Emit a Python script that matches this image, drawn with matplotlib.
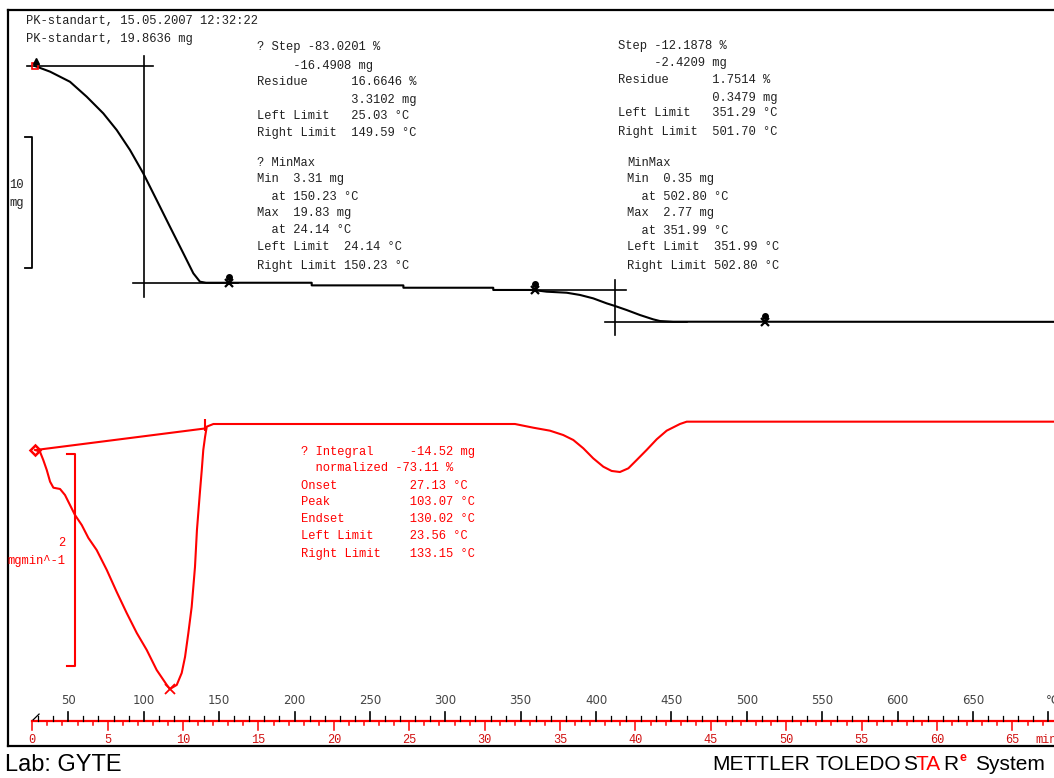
import numpy as np
import matplotlib
matplotlib.use("Agg")
import matplotlib.pyplot as plt
from matplotlib import font_manager

#--- TGA curve: weight (mg) vs sample temperature (C) ---#
tga_temp = [27.9, 37.9, 51.1, 62.2, 73.2, 82.1, 90.9, 99.7, 108.6, 117.4, 126.3,
            132.9, 137.3, 141.3, 211.4, 211.4, 272.2, 272.2, 331.8, 331.8, 358.2,
            367.2, 380.5, 389.3, 398.1, 407.0, 412.5, 420.3, 429.1, 437.9, 442.4,
            451.2, 720.0]
tga_mass = [19.83, 19.40, 18.63, 17.49, 16.22, 14.95, 13.43, 11.65, 9.61, 7.58, 5.55,
            4.03, 3.39, 3.31, 3.31, 3.11, 3.11, 2.93, 2.93, 2.76, 2.76,
            2.63, 2.55, 2.38, 2.12, 1.74, 1.54, 1.23, 0.85, 0.52, 0.39,
            0.34, 0.33]

#--- DTG curve: mg/min ---#
dtg_temp = [27.9, 31.2, 33.4, 35.7, 37.9, 40.1, 44.5, 47.8, 51.1, 54.4, 58.9, 63.3,
            68.8, 75.5, 82.1, 88.7, 95.4, 102.0, 108.6, 115.3, 117.4, 121.9, 125.2,
            127.4, 129.6, 131.8, 134.0, 135.3, 137.3, 138.5, 139.5, 140.7, 141.8,
            146.2, 346.2, 358.4, 369.4, 378.2, 384.9, 391.5, 398.1, 404.8, 410.3,
            415.8, 421.4, 426.9, 433.5, 440.2, 446.8, 455.6, 460.1, 720.0]
dtg_rate = [-0.245, -0.261, -0.340, -0.434, -0.544, -0.601, -0.613, -0.670, -0.764,
            -0.858, -0.953, -1.075, -1.189, -1.377, -1.585, -1.783, -1.972, -2.132,
            -2.321, -2.462, -2.500, -2.462, -2.349, -2.198, -1.972, -1.726, -1.349,
            -1.000, -0.639, -0.434, -0.245, -0.120, -0.025, 0.0, 0.0, -0.035,
            -0.063, -0.104, -0.151, -0.229, -0.324, -0.403, -0.443, -0.453, -0.418,
            -0.340, -0.245, -0.144, -0.063, 0.0, 0.022, 0.022]

# integration baseline under the first DTG peak
base_temp = [28.6, 141.3]
base_rate = [-0.245, -0.041]

# step evaluation tangents (two steps)
step_mid_temp = [100.4, 412.5]
step_top_mass = [19.83, 2.77]
step_bot_mass = [3.31, 0.33]
step_top_span = [(22.6, 106.2), (349.5, 419.8)]
step_bot_span = [(93.1, 162.5), (405.9, 460.0)]
step_vert_span = [(20.59, 2.22), (3.52, -0.67)]

# limit markers on the TGA curve
lim_temp = [156.8, 359.4, 511.9]
lim_mass = [3.31, 2.77, 0.33]

# scale bars
tga_bar = 10.0      # mg
dtg_bar = 2.0       # mg/min

# axis labels
temp_ticks = np.arange(50, 700, 50)
time_ticks = np.arange(0, 70, 5)
T_start = 26.1      # C at t = 0 min
heat_rate = 10.0    # C/min

W, H = 1054, 778
mono = "Liberation Mono"
ink = "#222222"
red = "#ff0000"

names = {f.name for f in font_manager.fontManager.ttflist}
logo_font = "Liberation Sans Narrow" if "Liberation Sans Narrow" in names else "Liberation Sans"
logo_size = 17.5 if logo_font == "Liberation Sans Narrow" else 15


def put(fig, x, y, s, color=ink, size=8.7, family=mono, ha="left", **kw):
    # x, y in pixels from the top left corner
    fig.text(x / W, 1 - y / H, s, color=color, fontsize=size, family=family,
             ha=ha, va="center", **kw)


def block(fig, x, ys, lines, color=ink):
    for y, s in zip(ys, lines):
        put(fig, x, y, s, color=color)


def draw_axis(ax):
    tr = ax.get_xaxis_transform()
    y0 = 0.0344
    t_end = (720.9 - T_start) / heat_rate
    ax.plot([T_start, 720.9], [y0, y0], color=red, lw=1.6, transform=tr, clip_on=False)
    # temperature ticks (black, above)
    for T in np.arange(30, 721, 10):
        h = 0.0122 if T % 50 == 0 else 0.0068
        ax.plot([T, T], [y0, y0 + h], color="black", lw=0.9 if T % 50 else 1.2, transform=tr)
    for T in temp_ticks:
        ax.text(T, 0.0625, str(T), transform=tr, ha="center", va="center",
                fontsize=8.5, color="#444444")
    ax.text(698.5, 0.0625, "°C", transform=tr, ha="left", va="center",
            fontsize=8.5, color="#444444")
    ax.plot([T_start + 0.5, T_start + 4.5], [y0 + 0.001, y0 + 0.009], color="black",
            lw=0.9, transform=tr)
    # time ticks (red, below)
    for t in np.arange(0, int(t_end) + 1):
        h = 0.0122 if t % 5 == 0 else 0.0062
        ax.plot([T_start + heat_rate * t] * 2, [y0, y0 - h], color=red,
                lw=1.1, transform=tr)
    for t in time_ticks:
        ax.text(T_start + heat_rate * t, 0.0085, str(t), transform=tr, ha="center",
                va="center", fontsize=8.6, family=mono, color="#d01010")
    ax.text(691, 0.0085, "min", transform=tr, ha="left", va="center",
            fontsize=8.6, family=mono, color="#d01010")


def plot_curves(fig):
    ax = fig.add_axes([8 / W, 1 - 746 / H, (1080 - 8) / W, 736 / H])
    ax.set_xlim(10.0, 720.9)
    ax.set_ylim(-32.0, 24.10)
    ax2 = ax.twinx()
    ax2.set_ylim(-3.038, 3.906)
    for a in (ax, ax2):
        a.set_xticks([])
        a.set_yticks([])
        a.patch.set_visible(False)
    for s in ("left", "top", "bottom"):
        ax.spines[s].set_linewidth(1.6)
    ax.spines["right"].set_visible(False)
    for s in ax2.spines.values():
        s.set_visible(False)

    # TGA
    ax.plot(tga_temp, tga_mass, color="black", lw=1.5)
    for i in range(2):
        ax.plot(step_top_span[i], [step_top_mass[i]] * 2, color="black", lw=1.2)
        ax.plot(step_bot_span[i], [step_bot_mass[i]] * 2, color="black", lw=1.2)
        ax.plot([step_mid_temp[i]] * 2, step_vert_span[i], color="black", lw=1.2)
    ax.plot(lim_temp, lim_mass, "x", color="black", ms=6, mew=1.6)
    ax.plot(lim_temp, np.array(lim_mass) + 0.45, "o", color="black", ms=4)
    ax.plot(tga_temp[0], tga_mass[0], "s", mfc="none", mec=red, ms=5, mew=1.2)
    ax.plot(tga_temp[0] + 0.8, tga_mass[0] + 0.35, "^", color="black", ms=4)
    top = 14.44
    ax.plot([21.3, 26.1, 26.1, 21.3], [top, top, top - tga_bar, top - tga_bar],
            color="black", lw=1.3)

    # DTG
    ax2.plot(dtg_temp, dtg_rate, color=red, lw=1.5)
    ax2.plot(base_temp, base_rate, color=red, lw=1.5)
    k = int(np.argmin(dtg_rate))
    ax2.plot(dtg_temp[k], dtg_rate[k], "x", color=red, ms=7, mew=1.3)
    ax2.plot(dtg_temp[0], dtg_rate[0], "D", mfc="none", mec=red, ms=5, mew=1.8)
    ax2.plot(base_temp[1], base_rate[1] + 0.03, 5, color=red, ms=6, mew=1.5)
    ax2.plot(base_temp[1] - 0.5, base_rate[1] + 0.03, "|", color=red, ms=8, mew=1.5)
    top = -0.283
    ax2.plot([48.9, 54.2, 54.2, 48.9], [top, top, top - dtg_bar, top - dtg_bar],
             color=red, lw=1.5)

    draw_axis(ax)
    return ax


def annotate(fig):
    put(fig, 25.7, 20.7, "PK-standart, 15.05.2007 12:32:22")
    put(fig, 25.7, 39.3, "PK-standart, 19.8636 mg")

    block(fig, 257, [46.7, 65.5, 81.7, 99.5, 116, 133.3, 162.7, 179, 196.7, 212.7, 230, 246.7, 265.7],
          ["? Step -83.0201 %",
           "     -16.4908 mg",
           "Residue      16.6646 %",
           "             3.3102 mg",
           "Left Limit   25.03 °C",
           "Right Limit  149.59 °C",
           "? MinMax",
           "Min  3.31 mg",
           "  at 150.23 °C",
           "Max  19.83 mg",
           "  at 24.14 °C",
           "Left Limit  24.14 °C",
           "Right Limit 150.23 °C"])
    block(fig, 618.3, [45.7, 63.3, 80, 98.3, 113.3, 131.7],
          ["Step -12.1878 %",
           "     -2.4209 mg",
           "Residue      1.7514 %",
           "             0.3479 mg",
           "Left Limit   351.29 °C",
           "Right Limit  501.70 °C"])
    block(fig, 627.3, [163.3, 179, 196.7, 213.3, 231, 247.3, 266],
          ["MinMax",
           "Min  0.35 mg",
           "  at 502.80 °C",
           "Max  2.77 mg",
           "  at 351.99 °C",
           "Left Limit  351.99 °C",
           "Right Limit 502.80 °C"])
    block(fig, 301, [451.7, 467.7, 485.7, 501.7, 519.3, 535.7, 554.3],
          ["? Integral     -14.52 mg",
           "  normalized -73.11 %",
           "Onset          27.13 °C",
           "Peak           103.07 °C",
           "Endset         130.02 °C",
           "Left Limit     23.56 °C",
           "Right Limit    133.15 °C"], color=red)

    put(fig, 23.5, 185, "10", ha="right")
    put(fig, 23.5, 203, "mg", ha="right")
    put(fig, 65, 542.7, "2", color=red, ha="right")
    put(fig, 65, 561, "mgmin^-1", color=red, ha="right")

    # footer
    put(fig, 5, 765, "Lab: GYTE", color="black", size=17, family="Liberation Sans")
    put(fig, 712, 765, "METTLER", color="black", size=logo_size, family=logo_font)
    put(fig, 815, 765, "TOLEDO", color="black", size=logo_size, family=logo_font)
    put(fig, 903, 765, "S", color="black", size=logo_size, family=logo_font)
    put(fig, 916, 765, "TA", color=red, size=logo_size, family=logo_font)
    put(fig, 943, 765, "R", color="black", size=logo_size, family=logo_font)
    put(fig, 959, 758, "e", color=red, size=9, family=logo_font, weight="bold")
    put(fig, 975, 765, "System", color="black", size=logo_size, family=logo_font)


if __name__ == "__main__":
    fig = plt.figure(figsize=(W / 100, H / 100), dpi=100, facecolor="w")
    plot_curves(fig)
    annotate(fig)
    fig.savefig("out.png", dpi=100, facecolor="w")
